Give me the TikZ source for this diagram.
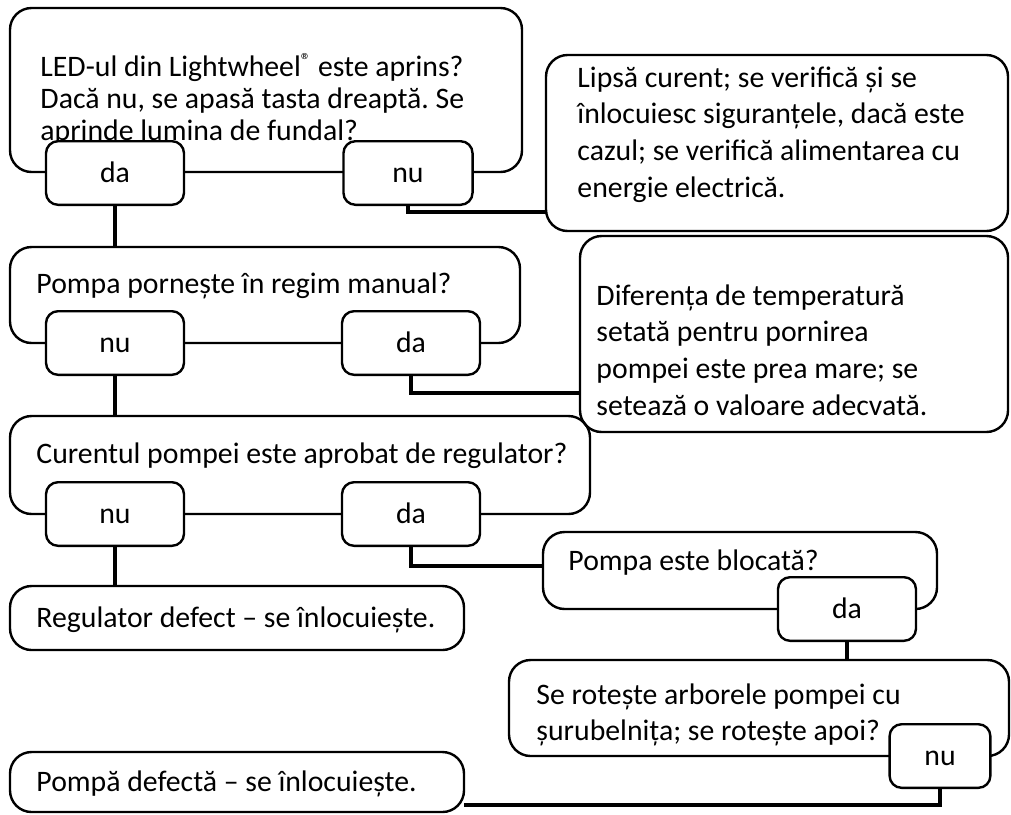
\documentclass[tikz,border=0pt]{standalone}
\usepackage{fontspec}
\setmainfont{Carlito}
\usetikzlibrary{fit}
\frenchspacing
\newcommand\qfont{\fontsize{12.4}{13.6}\selectfont}
\newcommand\qfontwide{\fontsize{12.4}{15.4}\selectfont}
\newcommand\qreg{\raisebox{0.6ex}{\fontsize{8.5}{8.5}\selectfont ®}}
\tikzset{
  qbox/.style={
    rectangle, rounded corners=9pt, draw=black,
    line width=1pt, inner sep=0pt
  },
  qtag/.style={
    rectangle, rounded corners=5pt, draw=black, fill=white,
    line width=1pt, inner sep=0pt, font=\qfont,
    text height=8pt, text depth=0pt,
    minimum width=57.5pt, minimum height=26.5pt
  },
  qtext/.style={
    anchor=base west, inner sep=0pt, align=left, text width=230pt, font=\qfont,
    execute at begin node={\spaceskip=0pt\xspaceskip=0pt\frenchspacing\relax}
  },
  qtextwide/.style={qtext, font=\qfontwide},
  qlink/.style={draw=black, line width=1.7pt}
}

\begin{document}
\begin{tikzpicture}[x=0.4167pt,y=-0.4167pt]
  \useasboundingbox (0,0) rectangle (1011,814);

  % questions and answers
  \node[qbox, fit={(10,8) (522,172)}] (led) {};
  \node[qtextwide] (ledtxt) at (40,76)
    {LED-ul din Lightwheel\qreg{} este aprins?\\[-2pt]
     Dacă nu, se apasă tasta dreaptă. Se\\[-2pt]
     aprinde lumina de fundal?};
  \node[qbox, fit={(546,55) (1008,231)}] (nocur) {};
  \node[qtextwide] (nocurtxt) at (577,87)
    {Lipsă curent; se verifică și se\\
     înlocuiesc siguranțele, dacă este\\
     cazul; se verifică alimentarea cu\\
     energie electrică.};

  \node[qbox, fit={(10,247) (520,343)}] (manual) {};
  \node[qtext] (manualtxt) at (36,293) {Pompa pornește în regim manual?};
  \node[qbox, fit={(580,236) (1008,432)}] (delta) {};
  \node[qtextwide] (deltatxt) at (596,305)
    {Diferența de temperatură\\
     setată pentru pornirea\\
     pompei este prea mare; se\\
     setează o valoare adecvată.};

  \node[qbox, fit={(10,416) (590,514)}] (current) {};
  \node[qtext, text width=300pt] (currenttxt) at (36,463) {Curentul pompei este aprobat de regulator?};
  \node[qbox, fit={(10,586) (464,650)}] (ctrl) {};
  \node[qtext] (ctrltxt) at (36,627) {Regulator defect – se înlocuiește.};

  \node[qbox, fit={(543,532) (937,609)}] (stuck) {};
  \node[qtext] (stucktxt) at (568,570) {Pompa este blocată?};
  \node[qbox, fit={(509,660) (1009,756)}] (shaft) {};
  \node[qtextwide] (shafttxt) at (536,704)
    {Se rotește arborele pompei cu\\
     șurubelnița; se rotește apoi?};
  \node[qbox, fit={(10,752) (464,812)}] (pump) {};
  \node[qtext] (pumptxt) at (36,791) {Pompă defectă – se înlocuiește.};

  % answer tags
  \node[qtag] (ledda) at (115,173) {da};
  \node[qtag, minimum width=53.8pt] (lednu) at (408,173) {nu};
  \node[qtag] (manualnu) at (115,343) {nu};
  \node[qtag] (manualda) at (411,343) {da};
  \node[qtag] (currentnu) at (115,514) {nu};
  \node[qtag] (currentda) at (411,514) {da};
  \node[qtag] (stuckda) at (847,609) {da};
  \node[qtag, minimum width=42pt] (shaftnu) at (940,756) {nu};

  \coordinate (nocurin) at (546,212);
  \coordinate (deltain) at (580,393);
  \coordinate (stuckin) at (543,566);
  \coordinate (pumpin) at (464,805);

  % links
  \draw[qlink] (ledda.south) -- (manual.north -| ledda.south);
  \draw[qlink] (lednu.south) |- (nocurin);
  \draw[qlink] (manualnu.south) -- (current.north -| manualnu.south);
  \draw[qlink] (manualda.south) |- (deltain);
  \draw[qlink] (currentnu.south) -- (ctrl.north -| currentnu.south);
  \draw[qlink] (currentda.south) |- (stuckin);
  \draw[qlink] (stuckda.south) -- (shaft.north -| stuckda.south);
  \draw[qlink] (shaftnu.south) |- (pumpin);
\end{tikzpicture}
\end{document}
